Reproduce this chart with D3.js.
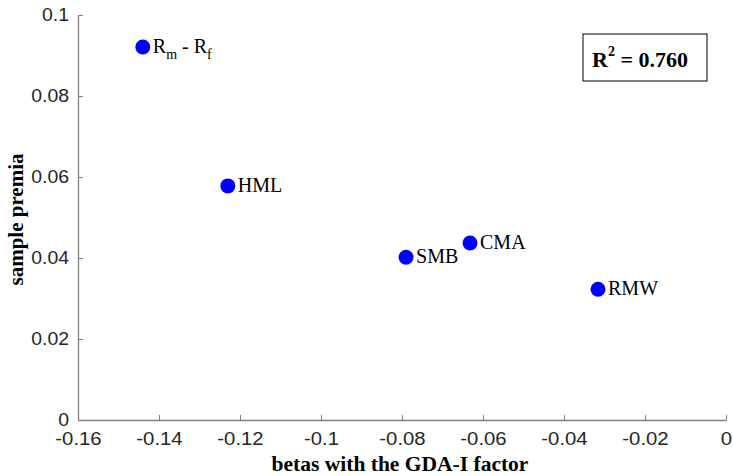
<!DOCTYPE html>
<html><head><meta charset="utf-8">
<script src="https://cdn.jsdelivr.net/npm/d3@7"></script>
<style>body{margin:0;background:#fff}svg{display:block}</style>
</head><body>
<script>
const names = ["Rm-Rf", "HML", "SMB", "CMA", "RMW"];
const betas = [-0.1440, -0.1230, -0.0790, -0.0632, -0.0316];
const premia = [0.0921, 0.0578, 0.0402, 0.0437, 0.0323];
const xTicks = [-0.16, -0.14, -0.12, -0.1, -0.08, -0.06, -0.04, -0.02, 0];
const yTicks = [0, 0.02, 0.04, 0.06, 0.08, 0.1];
const r2Text = "0.760";

const W = 733, H = 476;
const m = {l: 78, r: 7, t: 15, b: 56};
const svg = d3.select("body").append("svg").attr("width", W).attr("height", H);
const x = d3.scaleLinear().domain([-0.16, 0]).range([m.l, W - m.r]);
const y = d3.scaleLinear().domain([0, 0.1]).range([H - m.b, m.t]);
const axisColor = "#808080", textColor = "#262626";
const serif = "Liberation Serif, Times New Roman, serif";

const fmt = d => d === 0 ? "0" : String(d);
const gx = svg.append("g").attr("transform", `translate(0,${H - m.b})`)
  .call(d3.axisBottom(x).tickValues(xTicks).tickFormat(fmt).tickSizeInner(-5).tickSizeOuter(0).tickPadding(10));
const gy = svg.append("g").attr("transform", `translate(${m.l},0)`)
  .call(d3.axisLeft(y).tickValues(yTicks).tickFormat(fmt).tickSizeInner(-5).tickSizeOuter(0).tickPadding(9));
[gx, gy].forEach(g => {
  g.select(".domain").attr("stroke", axisColor).attr("stroke-width", 1.3);
  g.selectAll(".tick line").attr("stroke", axisColor);
  g.selectAll(".tick text").attr("fill", textColor).attr("font-family", "Liberation Sans, Arial, sans-serif").attr("font-size", 18);
});
gx.selectAll(".tick text").attr("dy", "0.85em").attr("transform", "scale(1.13,1)");
gy.selectAll(".tick text").attr("x", -9 / 1.08).attr("transform", "scale(1.08,1)");

svg.append("text").attr("x", 400).attr("y", 471)
  .attr("text-anchor", "middle").attr("font-family", serif)
  .attr("font-weight", "bold").attr("font-size", 21.5).attr("fill", "#000").text("betas with the GDA-I factor");
svg.append("text").attr("transform", `translate(23,${(m.t + H - m.b) / 2 + 2}) rotate(-90)`)
  .attr("text-anchor", "middle").attr("font-family", serif)
  .attr("font-weight", "bold").attr("font-size", 21).attr("fill", "#000").text("sample premia");

const pts = names.map((n, i) => ({n, b: betas[i], p: premia[i]}));
svg.selectAll("circle.pt").data(pts).enter().append("circle")
  .attr("cx", d => x(d.b)).attr("cy", d => y(d.p)).attr("r", 7.5).attr("fill", "#0000ff");

const lab = svg.selectAll("text.lab").data(pts).enter().append("text")
  .attr("x", d => x(d.b) + 10).attr("y", d => y(d.p) + 6)
  .attr("font-family", serif).attr("font-size", 20).attr("fill", "#000");
lab.each(function(d) {
  const t = d3.select(this);
  if (d.n === "Rm-Rf") {
    t.append("tspan").text("R");
    t.append("tspan").attr("font-size", 14).attr("dy", 6).text("m");
    t.append("tspan").attr("dy", -6).text(" - R");
    t.append("tspan").attr("font-size", 14).attr("dy", 6).text("f");
  } else t.text(d.n);
});

const bx = 583, by = 34, bw = 124, bh = 47;
svg.append("rect").attr("x", bx).attr("y", by).attr("width", bw).attr("height", bh)
  .attr("fill", "#fff").attr("stroke", "#000").attr("stroke-width", 1);
const rt = svg.append("text").attr("x", bx + 9).attr("y", by + 33)
  .attr("font-family", serif).attr("font-weight", "bold").attr("font-size", 22).attr("fill", "#000");
rt.append("tspan").text("R");
rt.append("tspan").attr("font-size", 14).attr("dy", -11).text("2");
rt.append("tspan").attr("dy", 11).text(" = " + r2Text);
</script>
</body></html>
